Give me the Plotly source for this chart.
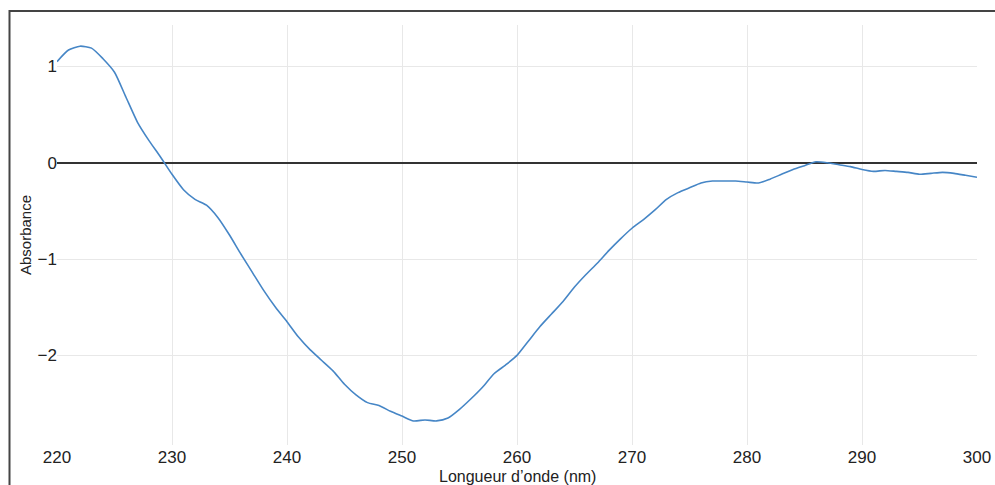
import plotly.graph_objects as go

wavelength_nm = list(range(220, 301))
absorbance = [
    1.05, 1.17, 1.21, 1.19, 1.08, 0.94, 0.68, 0.42, 0.23, 0.06,
    -0.12, -0.28, -0.38, -0.44, -0.57, -0.75, -0.95, -1.14, -1.33, -1.50,
    -1.65, -1.81, -1.94, -2.05, -2.16, -2.30, -2.41, -2.49, -2.52, -2.58,
    -2.63, -2.68, -2.67, -2.68, -2.65, -2.56, -2.45, -2.33, -2.19, -2.10,
    -2.00, -1.85, -1.70, -1.57, -1.44, -1.29, -1.16, -1.04, -0.91, -0.79,
    -0.68, -0.59, -0.49, -0.38, -0.31, -0.26, -0.21, -0.19, -0.19, -0.19,
    -0.20, -0.21, -0.17, -0.12, -0.07, -0.03, 0.01, 0.00, -0.02, -0.04,
    -0.07, -0.09, -0.08, -0.09, -0.10, -0.12, -0.11, -0.10, -0.11, -0.13,
    -0.15,
]
x_ticks = [220, 230, 240, 250, 260, 270, 280, 290, 300]
y_ticks = [-2, -1, 0, 1]
y_tick_text = ["\u22122", "\u22121", "0", "1"]
x_title = "Longueur d\u2019onde (nm)"
y_title = "Absorbance"

ML, MR, MT, MB = 57, 18, 25, 40
W, H = 995, 485
PW, PH = W - ML - MR, H - MT - MB

fig = go.Figure()
fig.add_trace(go.Scatter(
    x=wavelength_nm, y=absorbance, mode="lines",
    line=dict(color="#4686c6", width=1.6, shape="spline", smoothing=0.6),
    showlegend=False, hoverinfo="x+y",
))

font_family = "Liberation Sans, Arial, sans-serif"
fig.update_layout(
    width=W, height=H,
    margin=dict(l=ML, r=MR, t=MT, b=MB, autoexpand=False),
    paper_bgcolor="white", plot_bgcolor="white",
    font=dict(family=font_family, color="#222", size=17),
    xaxis=dict(
        range=[220, 300], tickvals=x_ticks, showgrid=True, automargin=False,
        gridcolor="#e8e8e8", gridwidth=1, zeroline=False, showline=False,
        ticks="", tickfont=dict(size=17, color="#222"),
    ),
    yaxis=dict(
        range=[-2.93, 1.43], tickvals=y_ticks, ticktext=y_tick_text, automargin=False,
        showgrid=True, gridcolor="#e8e8e8", gridwidth=1,
        zeroline=True, zerolinecolor="#333", zerolinewidth=1.5,
        showline=False, ticks="", tickfont=dict(size=17, color="#222"),
        ticklabelstandoff=-1,
    ),
    annotations=[
        dict(text=x_title, xref="paper", yref="paper", x=0.5, y=-(476 - (MT + PH)) / PH,
             showarrow=False, xanchor="center", yanchor="middle",
             font=dict(size=16, color="#222")),
        dict(text=y_title, xref="paper", yref="paper", x=-(ML - 25) / PW, y=0.5,
             textangle=-90, showarrow=False, xanchor="center", yanchor="middle",
             font=dict(size=15, color="#222")),
    ],
    shapes=[
        dict(type="rect", xref="paper", yref="paper",
             x0=(9.5 - ML) / PW, x1=1.2, y0=-0.3, y1=1 + (MT - 11) / PH,
             line=dict(color="#444", width=2), fillcolor="rgba(0,0,0,0)", layer="above"),
    ],
)

fig.write_html(
    "out.html",
    config={"displayModeBar": False},
    post_script="document.body.style.margin='0';document.body.style.overflow='hidden';",
)
